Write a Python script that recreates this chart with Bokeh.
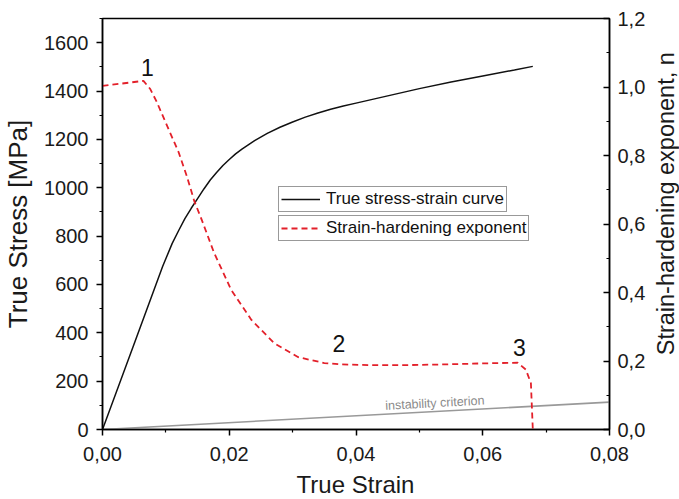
import math
from bokeh.plotting import figure
from bokeh.layouts import row, column
from bokeh.models import (Range1d, LinearAxis, FixedTicker, CustomJSTickFormatter,
                          Legend, LegendItem)
from bokeh.core.properties import value
from bokeh.embed import file_html
from bokeh.resources import INLINE

FONT = "Liberation Sans"

# True stress-strain curve
stress_strain = [0, 0.005, 0.0095, 0.011, 0.012, 0.013, 0.014, 0.015, 0.016, 0.017,
                 0.018, 0.019, 0.020, 0.021, 0.022, 0.024, 0.026, 0.028, 0.030, 0.032,
                 0.034, 0.036, 0.038, 0.040, 0.045, 0.050, 0.055, 0.060, 0.065, 0.0679]
stress_mpa = [0, 355, 675, 770, 822, 872, 915, 955, 995, 1032,
              1063, 1092, 1117, 1140, 1160, 1195, 1225, 1250, 1272, 1292,
              1309, 1325, 1338, 1350, 1380, 1410, 1437, 1462, 1487, 1502]

# Strain-hardening exponent
n_strain = [0, 0.00646, 0.0075, 0.0085, 0.010, 0.012, 0.0133, 0.0145, 0.0156, 0.0176,
            0.0203, 0.0235, 0.0271, 0.0309, 0.035, 0.0376, 0.042, 0.048, 0.054, 0.060,
            0.0655, 0.0668, 0.0676, 0.0679]
n_values = [1.003, 1.018, 0.995, 0.959, 0.895, 0.81, 0.74, 0.666, 0.615, 0.516,
            0.408, 0.320, 0.252, 0.211, 0.194, 0.190, 0.188, 0.188, 0.190, 0.193,
            0.195, 0.175, 0.135, 0.0]

# Instability criterion n = strain
crit_strain = [0.0, 0.08]
crit_n = [0.0, 0.08]

# Point labels
point_labels = ["1", "2", "3"]
point_strain = [0.0071, 0.0373, 0.0658]
point_n = [1.056, 0.252, 0.240]

x_ticks = [0.0, 0.02, 0.04, 0.06, 0.08]
x_minor = [0.01, 0.03, 0.05, 0.07]
y_ticks = [0, 200, 400, 600, 800, 1000, 1200, 1400, 1600]
y_minor = [100, 300, 500, 700, 900, 1100, 1300, 1500, 1700]
n_ticks = [0.0, 0.2, 0.4, 0.6, 0.8, 1.0, 1.2]
n_minor = [0.1, 0.3, 0.5, 0.7, 0.9, 1.1]

x_title = "True Strain"
y_title = "True Stress [MPa]"
n_title = "Strain-hardening exponent, n"

MAIN_W, MAIN_H = 649, 466

p = figure(width=MAIN_W, height=MAIN_H, output_backend="svg", toolbar_location=None,
           x_range=Range1d(0, 0.08), y_range=Range1d(0, 1700),
           min_border_left=101, min_border_right=40, min_border_top=18, min_border_bottom=37)
p.extra_y_ranges = {"n": Range1d(0, 1.2)}
p.xgrid.visible = False
p.ygrid.visible = False
p.outline_line_color = "black"
p.outline_line_width = 1.5
p.background_fill_color = "white"
p.border_fill_color = "white"

def style_axis(ax, size_label="20px", size_title="26px"):
    ax.axis_line_width = 1.5
    ax.axis_line_color = "black"
    ax.major_tick_line_width = 1.5
    ax.minor_tick_line_width = 1.2
    ax.major_label_text_font = FONT
    ax.major_label_text_font_size = size_label
    ax.major_label_text_color = "#1a1a1a"
    ax.axis_label_text_font = FONT
    ax.axis_label_text_font_size = size_title
    ax.axis_label_text_font_style = "normal"
    ax.axis_label_text_color = "#1a1a1a"

xa = p.xaxis[0]
xa.ticker = FixedTicker(ticks=x_ticks, minor_ticks=x_minor)
xa.formatter = CustomJSTickFormatter(code="return tick.toFixed(2).replace('.', ',');")
style_axis(xa)
xa.major_tick_out = 6
xa.major_tick_in = 0
xa.minor_tick_out = 3
xa.minor_tick_in = 0
xa.major_label_standoff = 11

ya = p.yaxis[0]
ya.ticker = FixedTicker(ticks=y_ticks, minor_ticks=y_minor)
ya.axis_label = y_title
style_axis(ya)
ya.major_tick_out = 6
ya.major_tick_in = 0
ya.minor_tick_out = 3
ya.minor_tick_in = 0
ya.major_label_standoff = 8
ya.axis_label_standoff = 8

ra = LinearAxis(y_range_name="n")
ra.ticker = FixedTicker(ticks=n_ticks, minor_ticks=n_minor)
ra.formatter = CustomJSTickFormatter(code="return tick.toFixed(1).replace('.', ',');")
style_axis(ra)
ra.major_tick_out = 0
ra.major_tick_in = 6
ra.minor_tick_out = 0
ra.minor_tick_in = 3
ra.major_label_standoff = 8
p.add_layout(ra, "right")

# Instability criterion
p.line(crit_strain, crit_n, y_range_name="n", line_color="#999999", line_width=1.6)
ang = math.atan2((crit_n[1] - crit_n[0]) / 1.2 * 411, (crit_strain[1] - crit_strain[0]) / 0.08 * 508)
p.text(x=[0.0525], y=[0.0565], text=["instability criterion"], y_range_name="n",
       text_font=value(FONT), text_font_size="12.5px", text_color="#8a8a8a",
       text_align="center", text_baseline="bottom", angle=ang)

stress_r = p.line(stress_strain, stress_mpa, line_color="#111111", line_width=1.5)
n_r = p.line(n_strain, n_values, y_range_name="n", line_color="#e3202a",
             line_width=1.8, line_dash="6 4")

p.text(x=point_strain, y=point_n, text=point_labels, y_range_name="n",
       text_font=value(FONT), text_font_size="23px", text_color="#111111",
       text_align="center", text_baseline="middle")

def make_legend(label, r, loc):
    lg = Legend(items=[LegendItem(label=label, renderers=[r])], location=loc,
                orientation="vertical")
    lg.border_line_color = "#333333"
    lg.border_line_width = 1
    lg.background_fill_color = "white"
    lg.background_fill_alpha = 1.0
    lg.padding = 2
    lg.margin = 0
    lg.spacing = 0
    lg.glyph_width = 39
    lg.glyph_height = 20
    lg.label_height = 20
    lg.label_standoff = 6
    lg.label_text_font = FONT
    lg.label_text_font_size = "17px"
    lg.label_text_color = "#111111"
    return lg

p.add_layout(make_legend("True stress-strain curve", stress_r, (176, 217)), "center")
p.add_layout(make_legend("Strain-hardening exponent", n_r, (176, 188)), "center")

# Right title strip (reads bottom-to-top)
RW = 679 - MAIN_W
rp = figure(width=RW, height=MAIN_H, output_backend="svg", toolbar_location=None,
            x_range=Range1d(0, RW), y_range=Range1d(0, MAIN_H),
            x_axis_type=None, y_axis_type=None, min_border=0)
rp.outline_line_color = None
rp.text(x=[16], y=[MAIN_H - 210], text=[n_title], angle=math.pi / 2,
        text_font=value(FONT), text_font_size="23.5px", text_color="#1a1a1a",
        text_align="center", text_baseline="middle")

# Bottom title strip
BH = 499 - MAIN_H
bp = figure(width=679, height=BH, output_backend="svg", toolbar_location=None,
            x_range=Range1d(0, 679), y_range=Range1d(0, BH),
            x_axis_type=None, y_axis_type=None, min_border=0)
bp.outline_line_color = None
bp.text(x=[355], y=[BH - 18], text=[x_title],
        text_font=value(FONT), text_font_size="24px", text_color="#1a1a1a",
        text_align="center", text_baseline="middle")

layout = column(row(p, rp, spacing=0), bp, spacing=0)
open("out.html", "w").write(file_html(layout, INLINE))
